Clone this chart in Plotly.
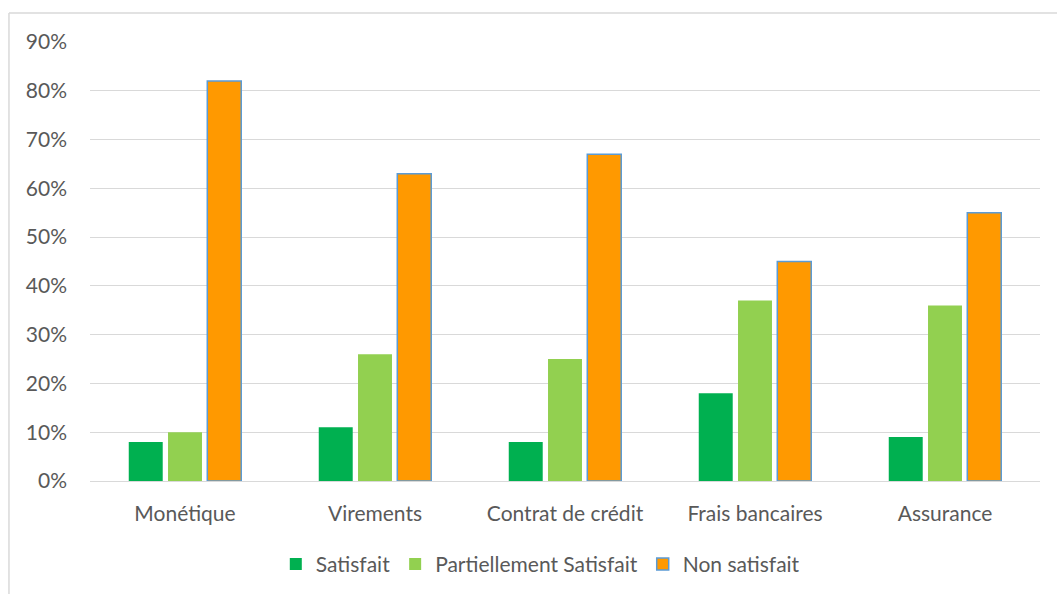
import plotly.graph_objects as go

categories = ["Monétique", "Virements", "Contrat de crédit", "Frais bancaires", "Assurance"]
satisfait = [0.08, 0.11, 0.08, 0.18, 0.09]
partiel = [0.10, 0.26, 0.25, 0.37, 0.36]
non_satisfait = [0.82, 0.63, 0.67, 0.45, 0.55]
tick_vals = [0, 0.1, 0.2, 0.3, 0.4, 0.5, 0.6, 0.7, 0.8, 0.9]
tick_text = ["0%", "10%", "20%", "30%", "40%", "50%", "60%", "70%", "80%", "90%"]

FONT = "Lato, Open Sans, sans-serif"
TXT = "#595959"
GRID = "#D9D9D9"
FS = 21

fig = go.Figure()
fig.add_trace(go.Bar(name="Satisfait", x=categories, y=satisfait,
                     marker=dict(color="#00B050", line=dict(width=0))))
fig.add_trace(go.Bar(name="Partiellement Satisfait", x=categories, y=partiel,
                     marker=dict(color="#92D050", line=dict(width=0))))
fig.add_trace(go.Bar(name="Non satisfait", x=categories, y=non_satisfait,
                     marker=dict(color="#FF9900", line=dict(color="#5B9BD5", width=1.5))))

fig.update_layout(
    width=1057, height=594,
    margin=dict(l=90, r=17, t=42, b=113, autoexpand=False),
    paper_bgcolor="white", plot_bgcolor="white",
    barmode="group", bargap=0.38, bargroupgap=0.135,
    font=dict(family=FONT, size=FS, color=TXT),
    showlegend=True,
    legend=dict(orientation="h", x=0.474, xanchor="center", y=-0.19, yanchor="middle",
                font=dict(family=FONT, size=FS, color=TXT), itemwidth=30,
                traceorder="normal"),
    hovermode=False,
    xaxis=dict(showgrid=False, showline=False, ticks="", ticklabelstandoff=18,
               tickfont=dict(size=FS, color=TXT), automargin=False),
    yaxis=dict(range=[0, 0.9], tickvals=tick_vals, ticktext=tick_text,
               showgrid=True, gridcolor=GRID, gridwidth=1.3, zeroline=True,
               zerolinecolor=GRID, zerolinewidth=1.3, showline=False, automargin=False,
               ticks="", ticklabelstandoff=22, tickfont=dict(size=FS, color=TXT)),
    shapes=[
        dict(type="line", xref="paper", yref="paper", x0=-0.0853, x1=1.05, y0=1.066, y1=1.066,
             line=dict(color=GRID, width=1.5)),
        dict(type="line", xref="paper", yref="paper", x0=-0.0853, x1=-0.0853, y0=1.066, y1=-0.3,
             line=dict(color=GRID, width=1.5)),
    ],
)

fig.write_html("out.html")
